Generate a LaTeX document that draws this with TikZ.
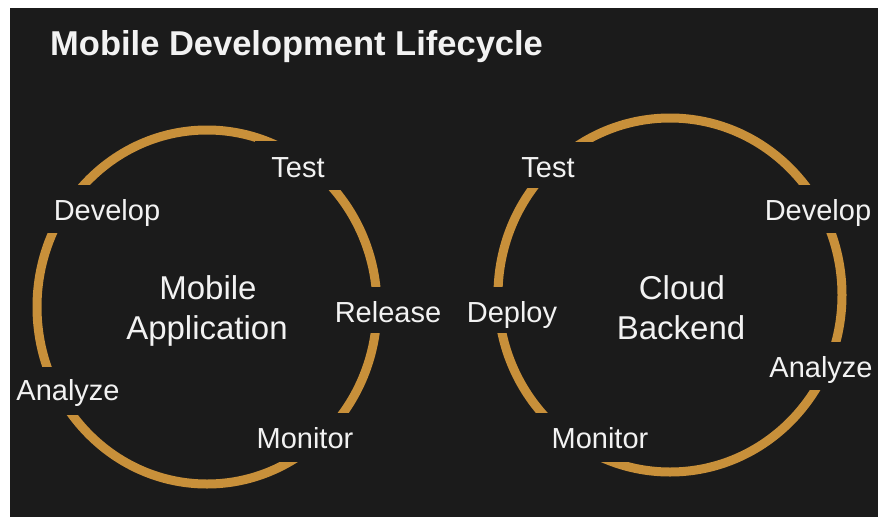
\documentclass[tikz,border=0pt]{standalone}
\usepackage{fontspec}
\setmainfont{Liberation Sans}
\definecolor{bgc}{HTML}{1B1B1B}
\definecolor{ring}{RGB}{200,144,58}
\definecolor{txt}{HTML}{F2F2F2}
\begin{document}
\begin{tikzpicture}[x=1pt,y=-1pt,
  lbl/.style={text=txt,font=\fontsize{29}{33}\selectfont,inner sep=0pt,anchor=base},
  ctr/.style={text=txt,font=\fontsize{33}{40}\selectfont,inner sep=0pt,anchor=base},
  ttl/.style={text=txt,font=\fontsize{34.5}{40}\selectfont\bfseries,inner sep=0pt,anchor=base west},
  ringline/.style={draw=ring,line width=9pt},
  mask/.style={fill=bgc}]
\useasboundingbox (0,0) rectangle (878,517);
\fill[white] (0,0) rectangle (878,517);
\fill[bgc] (10,8) rectangle (878,517);
% rings
\draw[ringline] (207,307) ellipse [x radius=170pt, y radius=177pt];
\draw[ringline] (670,295) ellipse [x radius=172pt, y radius=177pt];
% gaps in the left ring
\fill[mask] (255,141) rectangle (345,190);
\fill[mask] (40,185) rectangle (172,233);
\fill[mask] (322,287) rectangle (452,333);
\fill[mask] (245,413) rectangle (362,462);
\fill[mask] (10,367) rectangle (130,415);
% gaps in the right ring
\fill[mask] (512,142) rectangle (595,188);
\fill[mask] (455,287) rectangle (568,333);
\fill[mask] (755,185) rectangle (878,233);
\fill[mask] (760,342) rectangle (878,390);
\fill[mask] (528,413) rectangle (656,462);
% title
\node[ttl] (title) at (50,55) {Mobile Development Lifecycle};
% left cycle
\node[lbl] (lTest) at (298,177) {Test};
\node[lbl] (lDevelop) at (107,220) {Develop};
\node[lbl] (lRelease) at (388,322) {Release};
\node[lbl] (lAnalyze) at (68,400) {Analyze};
\node[lbl] (lMonitor) at (305,448) {Monitor};
\node[ctr] (lName1) at (208,299) {Mobile};
\node[ctr] (lName2) at (207,339) {Application};
% right cycle
\node[lbl] (rTest) at (548,177) {Test};
\node[lbl] (rDeploy) at (512,322) {Deploy};
\node[lbl] (rDevelop) at (818,220) {Develop};
\node[lbl] (rAnalyze) at (821,377) {Analyze};
\node[lbl] (rMonitor) at (600,448) {Monitor};
\node[ctr] (rName1) at (682,299) {Cloud};
\node[ctr] (rName2) at (681,339) {Backend};
\end{tikzpicture}
\end{document}
